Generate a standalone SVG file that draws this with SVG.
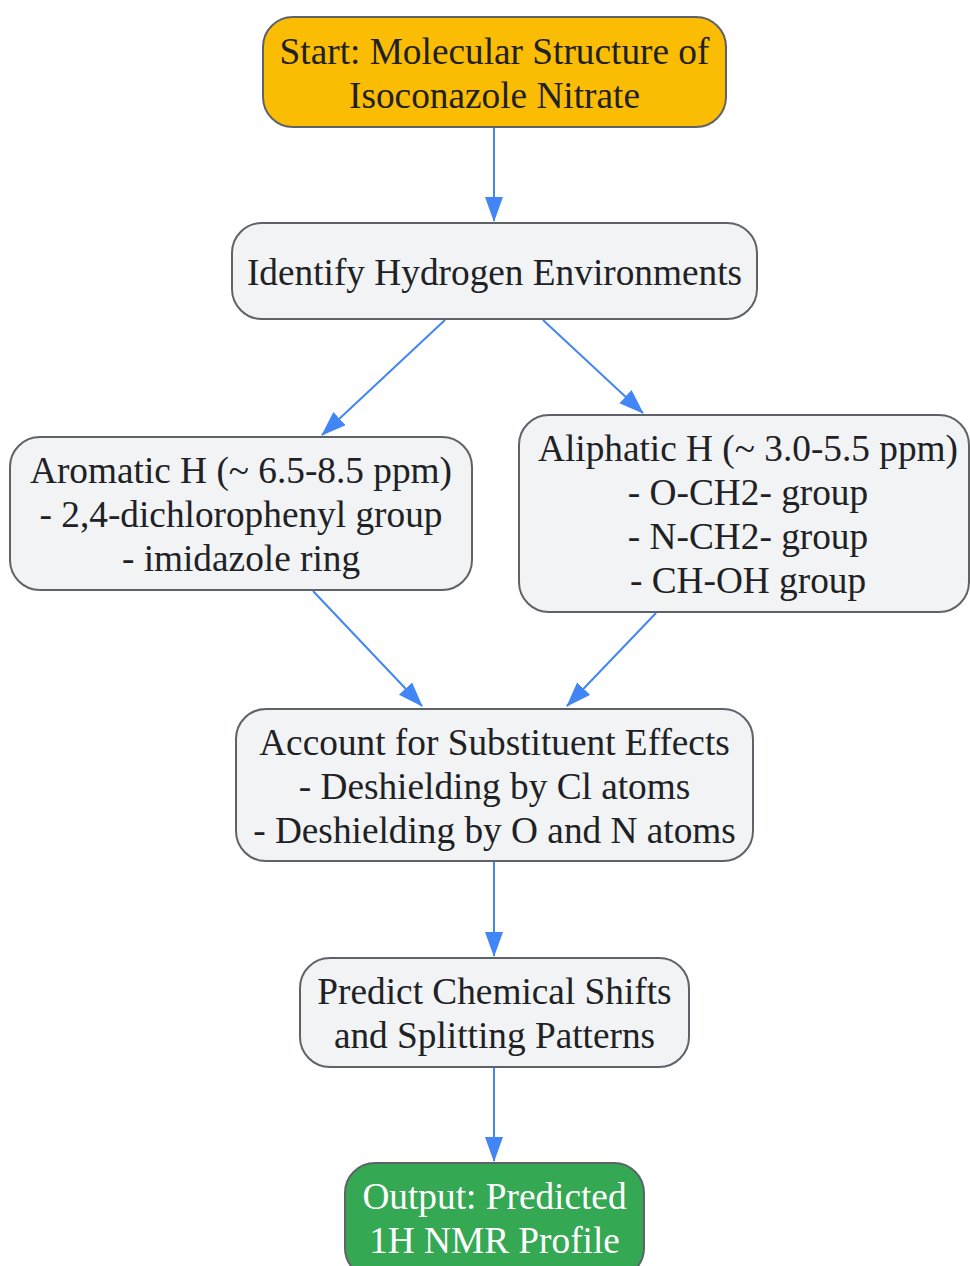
<svg xmlns="http://www.w3.org/2000/svg" width="970" height="1266" viewBox="0 0 970 1266">
<style>
.n{fill:#f1f3f4;stroke:#5f6368;stroke-width:2}
.t{font-family:"Liberation Serif","Times New Roman",serif;font-size:37.3px;fill:#202124;text-anchor:middle}
.w{fill:#ffffff}
.e{stroke:#4285f4;stroke-width:2;fill:none;marker-end:url(#a)}
</style>
<defs>
<marker id="a" markerUnits="userSpaceOnUse" markerWidth="26" markerHeight="20" refX="24" refY="9" orient="auto">
<path d="M0,0 L25,9 L0,18 Z" fill="#4285f4"/>
</marker>
</defs>
<g id="edges">
<line class="e" x1="494" y1="128" x2="494" y2="221"/>
<line class="e" x1="445" y1="320" x2="322" y2="435"/>
<line class="e" x1="543" y1="320" x2="643" y2="413"/>
<line class="e" x1="313" y1="591" x2="422" y2="706"/>
<line class="e" x1="656" y1="613" x2="567" y2="706"/>
<line class="e" x1="494" y1="862" x2="494" y2="956"/>
<line class="e" x1="494" y1="1068" x2="494" y2="1161"/>
</g>
<g id="start">
<rect x="263" y="17" width="463" height="110" rx="30" fill="#fbbc04" stroke="#5f6368" stroke-width="2"/>
<text class="t" x="494.5" y="63.5">Start: Molecular Structure of</text>
<text class="t" x="494.5" y="107.5">Isoconazole Nitrate</text>
</g>
<g id="identify">
<rect class="n" x="232" y="223" width="525" height="96" rx="30"/>
<text class="t" x="494.5" y="285">Identify Hydrogen Environments</text>
</g>
<g id="aromatic">
<rect class="n" x="10" y="437" width="462" height="153" rx="30"/>
<text class="t" x="241" y="483">Aromatic H (~ 6.5-8.5 ppm)</text>
<text class="t" x="241" y="527">- 2,4-dichlorophenyl group</text>
<text class="t" x="241" y="571">- imidazole ring</text>
</g>
<g id="aliphatic">
<rect class="n" x="519" y="415" width="450" height="197" rx="30"/>
<text class="t" x="748" y="461">Aliphatic H (~ 3.0-5.5 ppm)</text>
<text class="t" x="748" y="505">- O-CH2- group</text>
<text class="t" x="748" y="549">- N-CH2- group</text>
<text class="t" x="748" y="593">- CH-OH group</text>
</g>
<g id="account">
<rect class="n" x="236" y="709" width="517" height="152" rx="30"/>
<text class="t" x="494.5" y="755">Account for Substituent Effects</text>
<text class="t" x="494.5" y="799">- Deshielding by Cl atoms</text>
<text class="t" x="494.5" y="843">- Deshielding by O and N atoms</text>
</g>
<g id="predict">
<rect class="n" x="300" y="958" width="389" height="109" rx="30"/>
<text class="t" x="494.5" y="1004">Predict Chemical Shifts</text>
<text class="t" x="494.5" y="1048">and Splitting Patterns</text>
</g>
<g id="output">
<rect x="345" y="1163" width="299" height="115" rx="30" fill="#34a853" stroke="#5f6368" stroke-width="2"/>
<text class="t w" x="494.5" y="1209">Output: Predicted</text>
<text class="t w" x="494.5" y="1253">1H NMR Profile</text>
</g>
</svg>
